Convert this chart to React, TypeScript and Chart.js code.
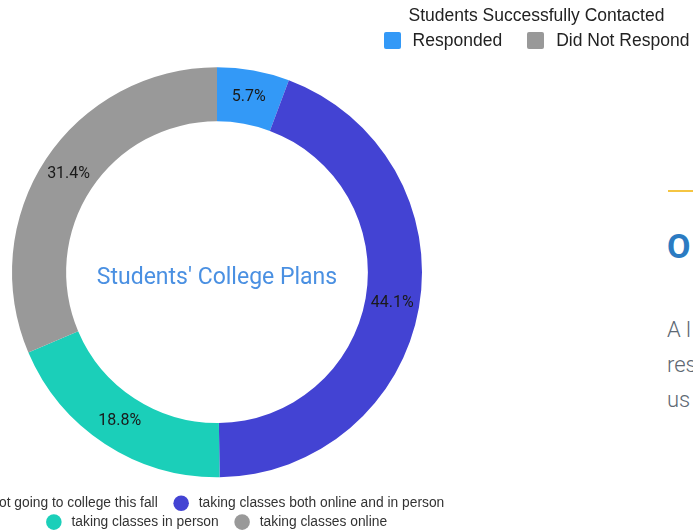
import React, { useEffect, useRef } from 'react';
import { Chart, registerables } from 'chart.js';

Chart.register(...registerables);

// ---- data ----
const categories = [
  'not going to college this fall',
  'taking classes both online and in person',
  'taking classes in person',
  'taking classes online',
];
const shares = [5.7, 44.1, 18.8, 31.4];
const centerTitle = "Students' College Plans";
const contactTitle = 'Students Successfully Contacted';
const contactCategories = ['Responded', 'Did Not Respond'];
const sideHeading = 'O';
const sideLines = ['A l', 'res', 'us'];

// ---- styles ----
const sliceColors = ['#3399f7', '#4343d3', '#1bcfb9', '#999999'];
const contactColors = ['#3399f7', '#999999'];
const trailingGaps = [3, 6, 3, 0];

const sliceLabelPlugin = {
  id: 'sliceLabels',
  afterDatasetsDraw(chart: any) {
    const ctx = chart.ctx;
    const meta = chart.getDatasetMeta(0);
    const data: number[] = chart.data.datasets[0].data;
    const total = data.reduce((a, b) => a + b, 0);
    ctx.save();
    ctx.textAlign = 'center';
    ctx.textBaseline = 'middle';
    ctx.font = '16px Roboto';
    ctx.fillStyle = '#1a1a1a';
    meta.data.forEach((arc: any, i: number) => {
      const p = arc.tooltipPosition();
      ctx.fillText(((data[i] / total) * 100).toFixed(1) + '%', p.x, p.y);
    });
    const c = meta.data[0];
    ctx.font = '23px Roboto';
    ctx.fillStyle = '#4a90e2';
    ctx.fillText(centerTitle, c.x, c.y + 6);
    ctx.restore();
  },
};

function Doughnut() {
  const ref = useRef<HTMLCanvasElement>(null);
  useEffect(() => {
    const chart = new Chart(ref.current as HTMLCanvasElement, {
      type: 'doughnut',
      data: {
        labels: categories,
        datasets: [
          {
            data: shares,
            backgroundColor: sliceColors,
            borderWidth: 0,
            radius: 205,
            cutout: '73.6%',
          } as any,
        ],
      },
      options: {
        responsive: false,
        animation: false,
        layout: { padding: { top: 53 } },
        plugins: {
          tooltip: { enabled: false },
          legend: {
            position: 'bottom',
            labels: {
              usePointStyle: true,
              pointStyle: 'circle',
              boxHeight: 11,
              padding: 5,
              color: '#333333',
              font: { family: "'Liberation Sans', Arial, Helvetica, sans-serif", size: 13.8 },
              generateLabels(ch: any) {
                const base = (Chart as any).overrides.doughnut.plugins.legend.labels.generateLabels(ch);
                return base.map((it: any, i: number) => ({
                  ...it,
                  text: ' ' + it.text + ' '.repeat(trailingGaps[i] || 0),
                }));
              },
            },
          },
        },
      } as any,
      plugins: [sliceLabelPlugin],
    });
    return () => chart.destroy();
  }, []);
  return <canvas ref={ref} width={560} height={539} style={{ width: 560, height: 539, display: 'block' }} />;
}

export default function App() {
  const sans = "'Liberation Sans', Arial, Helvetica, sans-serif";
  return (
    <div
      style={{
        position: 'fixed',
        left: 0,
        top: 0,
        width: 693,
        height: 531,
        overflow: 'hidden',
        background: '#ffffff',
      }}
    >
      <div style={{ position: 'absolute', left: -63, top: 0, width: 560, height: 539 }}>
        <Doughnut />
      </div>

      {/* contact legend */}
      <div
        style={{
          position: 'absolute',
          left: 380,
          top: 5,
          width: 313,
          textAlign: 'center',
          fontFamily: sans,
          fontSize: 17.5,
          lineHeight: '20px',
          color: '#222',
          whiteSpace: 'nowrap',
        }}
      >
        {contactTitle}
      </div>
      <div
        style={{
          position: 'absolute',
          left: 380,
          top: 30,
          width: 313,
          height: 20,
          display: 'flex',
          justifyContent: 'center',
          alignItems: 'center',
          fontFamily: sans,
          fontSize: 17.5,
          color: '#222',
          whiteSpace: 'nowrap',
        }}
      >
        {contactCategories.map((c, i) => (
          <div key={c} style={{ display: 'flex', alignItems: 'center', marginLeft: i ? 25 : 0 }}>
            <span
              style={{
                display: 'inline-block',
                width: 17,
                height: 17,
                borderRadius: 2,
                background: contactColors[i],
                marginRight: 12,
              }}
            />
            <span>{c}</span>
          </div>
        ))}
      </div>

      {/* side text */}
      <div style={{ position: 'absolute', left: 668, top: 190, width: 40, height: 2, background: '#f5c542' }} />
      <div
        style={{
          position: 'absolute',
          left: 667,
          top: 229,
          fontFamily: 'Roboto, sans-serif',
          fontWeight: 700,
          fontSize: 34,
          lineHeight: '34px',
          color: '#2b7bc2',
          whiteSpace: 'nowrap',
        }}
      >
        {sideHeading}
      </div>
      <div
        style={{
          position: 'absolute',
          left: 667,
          top: 312,
          fontFamily: 'Roboto, sans-serif',
          fontWeight: 300,
          fontSize: 22,
          lineHeight: '35px',
          color: '#5d6873',
          whiteSpace: 'nowrap',
        }}
      >
        {sideLines.map((l) => (
          <div key={l}>{l}</div>
        ))}
      </div>
    </div>
  );
}
